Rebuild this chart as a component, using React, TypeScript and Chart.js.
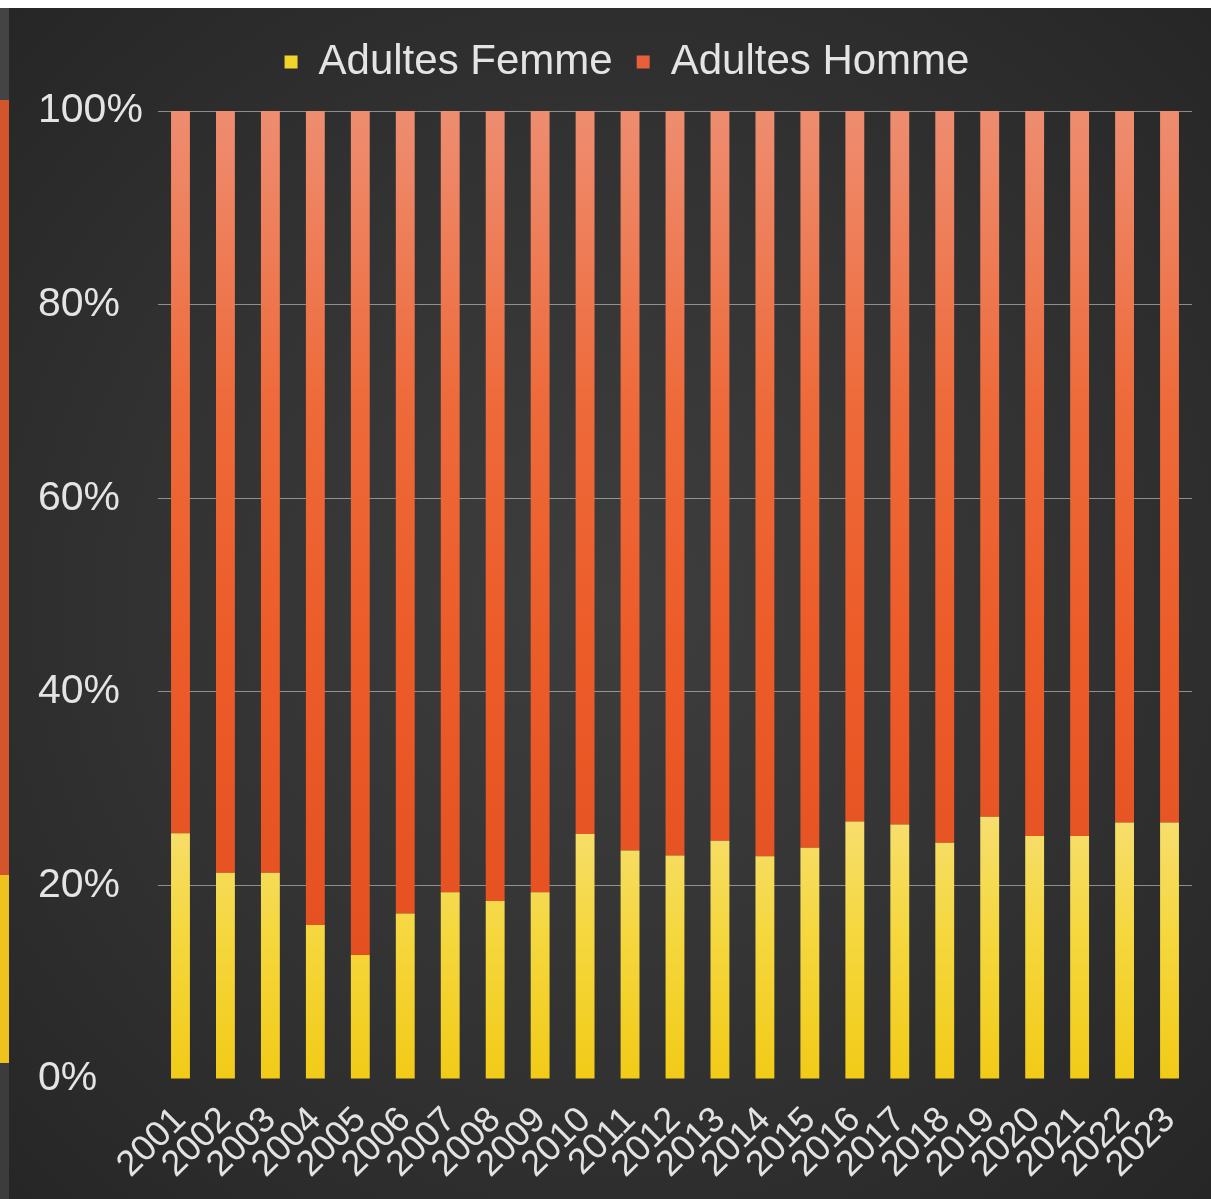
import React, { useEffect, useRef } from "react";
import { Chart, registerables } from "chart.js";

Chart.register(...registerables);

const years = [
  "2001", "2002", "2003", "2004", "2005", "2006", "2007", "2008", "2009", "2010", "2011", "2012",
  "2013", "2014", "2015", "2016", "2017", "2018", "2019", "2020", "2021", "2022", "2023",
];
const femme = [
  25.4, 21.3, 21.3, 15.9, 12.8, 17.1, 19.3, 18.4, 19.3, 25.3, 23.6, 23.1,
  24.6, 23.0, 23.9, 26.6, 26.3, 24.4, 27.1, 25.1, 25.1, 26.5, 26.5,
];
const homme = [
  74.6, 78.7, 78.7, 84.1, 87.2, 82.9, 80.7, 81.6, 80.7, 74.7, 76.4, 76.9,
  75.4, 77.0, 76.1, 73.4, 73.7, 75.6, 72.9, 74.9, 74.9, 73.5, 73.5,
];
const seriesLabels = ["Adultes Femme", "Adultes Homme"];
const yMax = 100;
const yStep = 20;

const FONT = "'Liberation Sans', Arial, Helvetica, sans-serif";

function femmeFill(ctx: any) {
  const chart = ctx.chart;
  const area = chart.chartArea;
  if (!area) return "#f3d229";
  const y = chart.scales.y;
  const g = chart.ctx.createLinearGradient(0, y.getPixelForValue(30), 0, y.getPixelForValue(0));
  g.addColorStop(0, "#f7e07a");
  g.addColorStop(0.5, "#f5d73e");
  g.addColorStop(1, "#f2cb17");
  return g;
}

function hommeFill(ctx: any) {
  const chart = ctx.chart;
  const area = chart.chartArea;
  if (!area) return "#e8603a";
  const y = chart.scales.y;
  const g = chart.ctx.createLinearGradient(0, y.getPixelForValue(100), 0, y.getPixelForValue(0));
  g.addColorStop(0, "#ee8d70");
  g.addColorStop(0.3, "#ee6a3a");
  g.addColorStop(0.55, "#ec5c29");
  g.addColorStop(1, "#e24b1d");
  return g;
}

const legendSpacer = {
  id: "legendSpacer",
  beforeInit(chart: any) {
    const legend = chart.legend;
    if (!legend) return;
    const origFit = legend.fit;
    legend.fit = function () {
      origFit.call(this);
      this.height += 18;
    };
  },
  afterLayout(chart: any) {
    if (chart.legend) chart.legend.left += 24;
  },
};

export default function App() {
  const ref = useRef<HTMLCanvasElement>(null);

  useEffect(() => {
    document.body.style.margin = "0";
    const canvas = ref.current;
    if (!canvas) return;
    const legendColors = ["#f2d52a", "#e8603a"];
    const chart = new Chart(canvas, {
      type: "bar",
      data: {
        labels: years,
        datasets: [
          {
            label: seriesLabels[0],
            data: femme,
            backgroundColor: femmeFill,
            borderWidth: 0,
            barPercentage: 0.42,
            categoryPercentage: 1,
          },
          {
            label: seriesLabels[1],
            data: homme,
            backgroundColor: hommeFill,
            borderWidth: 0,
            barPercentage: 0.42,
            categoryPercentage: 1,
          },
        ],
      },
      options: {
        responsive: false,
        animation: false,
        devicePixelRatio: 1,
        layout: { padding: { left: 29, right: 19, top: 9, bottom: 0 } },
        plugins: {
          tooltip: { enabled: false },
          legend: {
            position: "top",
            labels: {
              color: "#e4e4e4",
              font: { family: FONT, size: 42 },
              boxWidth: 13,
              boxHeight: 13,
              padding: 24,
              generateLabels: (c: any) => {
                const items = Chart.defaults.plugins.legend.labels.generateLabels(c);
                return items.map((it: any, i: number) => ({
                  ...it,
                  fillStyle: legendColors[i],
                  strokeStyle: legendColors[i],
                  lineWidth: 0,
                }));
              },
            },
          },
        },
        scales: {
          x: {
            stacked: true,
            grid: { display: false, drawTicks: false },
            border: { display: false },
            ticks: {
              autoSkip: false,
              maxRotation: 45,
              minRotation: 45,
              color: "#e2e2e2",
              font: { family: FONT, size: 36 },
              padding: 20,
            },
            afterFit: (s: any) => {
              s.height = 120;
              s.paddingRight = 0;
              s.paddingLeft = 0;
            },
          },
          y: {
            stacked: true,
            min: 0,
            max: yMax,
            grid: {
              color: (c: any) => (c.tick && c.tick.value === 0 ? "rgba(0,0,0,0)" : "rgba(205,205,205,0.6)"),
              lineWidth: 1,
              drawTicks: false,
            },
            border: { display: false },
            ticks: {
              stepSize: yStep,
              color: "#e4e4e4",
              font: { family: FONT, size: 41 },
              crossAlign: "far",
              callback: (v: any) => v + "%",
            },
            afterFit: (s: any) => {
              s.width = 120;
            },
          },
        },
      },
      plugins: [legendSpacer],
    });
    return () => chart.destroy();
  }, []);

  return (
    <div style={{ position: "relative", width: 1211, height: 1199, background: "#ffffff", overflow: "hidden" }}>
      <div style={{ position: "absolute", left: 0, top: 8, width: 9, height: 92, background: "#444444" }} />
      <div style={{ position: "absolute", left: 0, top: 100, width: 9, height: 775, background: "#d2552c" }} />
      <div style={{ position: "absolute", left: 0, top: 875, width: 9, height: 188, background: "#efc21c" }} />
      <div style={{ position: "absolute", left: 0, top: 1063, width: 9, height: 136, background: "#3c3c3c" }} />
      <div
        style={{
          position: "absolute",
          left: 9,
          top: 8,
          width: 1202,
          height: 1191,
          background: "radial-gradient(ellipse at 50% 50%, #3e3e3e 0%, #323232 55%, #262626 100%)",
        }}
      >
        <canvas ref={ref} width={1202} height={1191} style={{ display: "block", width: 1202, height: 1191 }} />
      </div>
    </div>
  );
}
